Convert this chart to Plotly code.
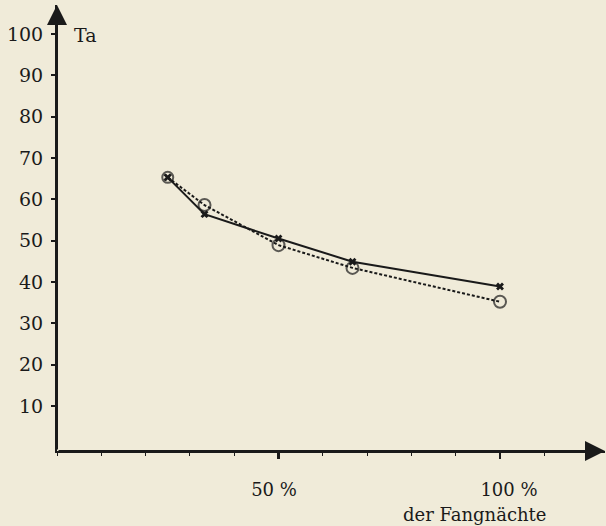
import plotly.graph_objects as go

# Data
x_pct = [25, 33.3, 50, 66.7, 100]            # % der Fangnächte
ta_solid = [65.3, 56.4, 50.5, 44.9, 38.9]    # series with x markers (solid line)
ta_dotted = [65.3, 58.6, 48.9, 43.4, 35.2]   # series with circle markers (dotted line)

y_tick_vals = [10, 20, 30, 40, 50, 60, 70, 80, 90, 100]
y_tick_text = ["10", "20", "30", "40", "50", "60", "70", "80", "90", "100"]
x_tick_vals = [50, 100]
x_tick_text = ["50 %\u2002", "\u2002\u2002100 %"]

BG = "#f0ebd9"
INK = "#1a1a1a"
FONT = "DejaVu Serif"

X_MAX = 123.7
Y_MIN, Y_MAX = -0.9, 107.0

fig = go.Figure()

fig.add_trace(go.Scatter(
    x=x_pct, y=ta_dotted, mode="lines+markers",
    line=dict(color=INK, width=2, dash="3px,2px"),
    marker=dict(symbol=["circle-x-open"] + ["circle-open"] * 4,
                size=[11, 12, 12, 12, 12], color=INK,
                line=dict(width=2, color=INK)),
    showlegend=False, hoverinfo="skip",
))
fig.add_trace(go.Scatter(
    x=x_pct, y=ta_solid, mode="lines+markers",
    line=dict(color=INK, width=2),
    marker=dict(symbol="x", size=7, color=INK, line=dict(width=0)),
    showlegend=False, hoverinfo="skip",
))

# Axis arrows
fig.add_annotation(x=X_MAX, y=Y_MIN, ax=0, ay=Y_MIN, xref="x", yref="y",
                   axref="x", ayref="y", showarrow=True, arrowhead=2,
                   arrowsize=2, arrowwidth=2, arrowcolor=INK, text="")
fig.add_annotation(x=0, y=Y_MAX, ax=0, ay=Y_MIN, xref="x", yref="y",
                   axref="x", ayref="y", showarrow=True, arrowhead=2,
                   arrowsize=2, arrowwidth=2, arrowcolor=INK, text="")

fig.add_annotation(x=72, y=35, xref="paper", yref="paper", text="Ta",
                   showarrow=False, xanchor="left", yanchor="middle",
                   font=dict(family=FONT, size=19, color=INK))
fig.add_annotation(text="der Fangnächte", showarrow=False,
                   xref="paper", yref="paper", x=475, y=514,
                   xanchor="center", yanchor="middle",
                   font=dict(family=FONT, size=18, color=INK))

# convert pixel-placed annotations to paper coordinates
W, H = 606, 526
L, R, T, B = 57, 1, 5, 75
pw, ph = W - L - R, H - T - B
for a in fig.layout.annotations[2:]:
    a.x = (a.x - L) / pw
    a.y = (H - B - a.y) / ph

fig.update_layout(
    width=W, height=H,
    margin=dict(l=L, r=R, t=T, b=B),
    paper_bgcolor=BG, plot_bgcolor=BG,
    font=dict(family=FONT, size=19, color=INK),
    xaxis=dict(range=[0, X_MAX], showgrid=False, zeroline=False,
               showline=True, linecolor=INK, linewidth=2,
               tickmode="array", tickvals=x_tick_vals, ticktext=x_tick_text,
               ticks="outside", ticklen=6, tickwidth=2.5, tickcolor=INK,
               ticklabelstandoff=15, tickfont=dict(size=18),
               minor=dict(dtick=10, tick0=0, ticks="outside", ticklen=3,
                          tickwidth=1, tickcolor=INK)),
    yaxis=dict(range=[Y_MIN, Y_MAX], showgrid=False, zeroline=False,
               showline=True, linecolor=INK, linewidth=2,
               tickmode="array", tickvals=y_tick_vals, ticktext=y_tick_text,
               ticks="outside", ticklen=4, tickwidth=2, tickcolor=INK,
               ticklabelstandoff=4),
)

fig.write_html(
    "out.html",
    config={"displayModeBar": False, "staticPlot": True},
    post_script="document.body.style.margin='0';"
                "document.body.style.background='" + BG + "';"
                "document.documentElement.style.overflow='hidden';",
)
